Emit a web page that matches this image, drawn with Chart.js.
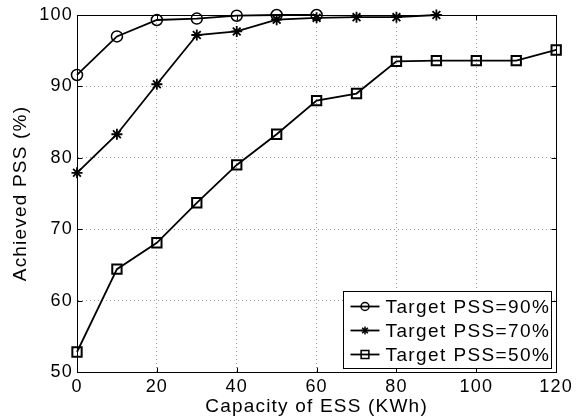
<!DOCTYPE html>
<html>
<head>
<meta charset="utf-8">
<script src="https://cdn.jsdelivr.net/npm/chart.js@4.4.1/dist/chart.umd.min.js"></script>
<style>
html,body{margin:0;padding:0;background:#fff;}
#wrap{width:577px;height:417px;position:relative;}
</style>
</head>
<body>
<div id="wrap"><canvas id="c" width="577" height="417"></canvas></div>
<script>
// ---- data ----
const capacity = [0, 10, 20, 30, 40, 50, 60, 70, 80, 90, 100, 110, 120];
const target90 = [91.6, 97.0, 99.3, 99.5, 99.9, 100, 100];
const target70 = [77.9, 83.3, 90.3, 97.2, 97.7, 99.35, 99.6, 99.7, 99.7, 100];
const target50 = [52.8, 64.4, 68.1, 73.7, 79.0, 83.3, 88.0, 89.0, 93.5, 93.6, 93.6, 93.6, 95.1];
const seriesLabels = ['Target PSS=90%', 'Target PSS=70%', 'Target PSS=50%'];
const xTicks = [0, 20, 40, 60, 80, 100, 120];
const yTicks = [50, 60, 70, 80, 90, 100];
const xTitle = 'Capacity of ESS (KWh)';
const yTitle = 'Achieved PSS (%)';

const FONT = "'Liberation Sans', Arial, Helvetica, sans-serif";
const SPACING = '1.2px';

function pairs(vals) { return vals.map((v, i) => ({ x: capacity[i], y: v })); }

function drawMarker(ctx, style, x, y, r) {
  ctx.beginPath();
  if (style === 'circle') {
    ctx.arc(x, y, r, 0, Math.PI * 2);
  } else if (style === 'rect') {
    const s = r * Math.SQRT1_2;
    ctx.rect(x - s, y - s, 2 * s, 2 * s);
  } else if (style === 'star') {
    ctx.moveTo(x - r, y); ctx.lineTo(x + r, y);
    ctx.moveTo(x, y - r); ctx.lineTo(x, y + r);
    const d = r * Math.SQRT1_2;
    ctx.moveTo(x - d, y - d); ctx.lineTo(x + d, y + d);
    ctx.moveTo(x - d, y + d); ctx.lineTo(x + d, y - d);
  }
  ctx.stroke();
}

const spacingPlugin = {
  id: 'spacing',
  beforeUpdate(chart) { chart.ctx.letterSpacing = SPACING; },
  beforeDraw(chart) { chart.ctx.letterSpacing = SPACING; }
};

const framePlugin = {
  id: 'frame',
  beforeDatasetsDraw(chart) {
    const { ctx, chartArea: a, scales: { x, y } } = chart;
    ctx.save();
    ctx.strokeStyle = '#000';
    ctx.lineWidth = 1;
    const L = Math.round(a.left) + 0.5, R = Math.round(a.right) + 0.5;
    const T = Math.round(a.top) + 0.5, B = Math.round(a.bottom) + 0.5;
    ctx.strokeRect(L, T, R - L, B - T);
    const tl = 5;
    ctx.beginPath();
    xTicks.forEach(v => {
      const px = Math.round(x.getPixelForValue(v)) + 0.5;
      ctx.moveTo(px, B); ctx.lineTo(px, B - tl);
      ctx.moveTo(px, T); ctx.lineTo(px, T + tl);
    });
    yTicks.forEach(v => {
      const py = Math.round(y.getPixelForValue(v)) + 0.5;
      ctx.moveTo(L, py); ctx.lineTo(L + tl, py);
      ctx.moveTo(R, py); ctx.lineTo(R - tl, py);
    });
    ctx.stroke();
    ctx.restore();
  }
};

const legendPlugin = {
  id: 'boxLegend',
  afterDatasetsDraw(chart) {
    const { ctx, chartArea: a } = chart;
    ctx.save();
    ctx.letterSpacing = '1.4px';
    ctx.font = '19px ' + FONT;
    const ds = chart.data.datasets;
    let maxW = 0;
    ds.forEach(d => { maxW = Math.max(maxW, ctx.measureText(d.label).width); });
    const w = 42 + maxW + 1;
    const h = 77;
    const right = a.right - 5, bottom = a.bottom - 4;
    const left = Math.round(right - w) + 0.5, top = Math.round(bottom - h) + 0.5;
    ctx.fillStyle = '#fff';
    ctx.fillRect(left, top, Math.round(w), h);
    ctx.strokeStyle = '#000';
    ctx.lineWidth = 1;
    ctx.strokeRect(left, top, Math.round(w), h);
    ds.forEach((d, i) => {
      const cy = top + 15 + i * 24;
      ctx.strokeStyle = '#000';
      ctx.lineWidth = 1.8;
      ctx.beginPath();
      ctx.moveTo(left + 7, cy); ctx.lineTo(left + 36, cy);
      ctx.stroke();
      ctx.lineWidth = 1.5;
      drawMarker(ctx, d.pointStyle, left + 21.5, cy, d.pointStyle === 'rect' ? 5.5 : 4);
      ctx.fillStyle = '#000';
      ctx.textBaseline = 'middle';
      ctx.textAlign = 'left';
      ctx.fillText(d.label, left + 42, cy + 1);
    });
    ctx.restore();
  }
};

const common = {
  borderColor: '#000',
  backgroundColor: 'rgba(0,0,0,0)',
  pointBackgroundColor: 'rgba(0,0,0,0)',
  pointBorderColor: '#000',
  borderWidth: 1.8,
  tension: 0,
  clip: false,
  fill: false
};

new Chart(document.getElementById('c'), {
  type: 'line',
  data: {
    datasets: [
      Object.assign({}, common, { label: seriesLabels[0], data: pairs(target90), pointStyle: 'circle', pointRadius: 5.5, pointBorderWidth: 1.5 }),
      Object.assign({}, common, { label: seriesLabels[1], data: pairs(target70), pointStyle: 'star', pointRadius: 5.5, pointBorderWidth: 1.8 }),
      Object.assign({}, common, { label: seriesLabels[2], data: pairs(target50), pointStyle: 'rect', pointRadius: 6.6, pointBorderWidth: 2 })
    ]
  },
  options: {
    responsive: false,
    animation: false,
    events: [],
    layout: { padding: { left: 0, top: 15, right: 18, bottom: 0 } },
    plugins: { legend: { display: false }, tooltip: { enabled: false }, title: { display: false } },
    scales: {
      x: {
        type: 'linear', min: 0, max: 120,
        afterBuildTicks: s => { s.ticks = xTicks.map(v => ({ value: v })); },
        afterFit: s => { s.height = 45; },
        grid: { color: '#999', lineWidth: 1, drawTicks: false },
        border: { display: true, color: '#000', width: 1, dash: [1, 3] },
        ticks: { color: '#000', font: { family: FONT, size: 18 }, padding: 4, maxRotation: 0, autoSkip: false },
        title: { display: true, text: xTitle, color: '#000', font: { family: FONT, size: 19 }, padding: { top: 0, bottom: -1 } }
      },
      y: {
        type: 'linear', min: 50, max: 100,
        afterBuildTicks: s => { s.ticks = yTicks.map(v => ({ value: v })); },
        afterFit: s => { s.width = 77; },
        grid: { color: '#999', lineWidth: 1, drawTicks: false },
        border: { display: true, color: '#000', width: 1, dash: [1, 3] },
        ticks: { color: '#000', font: { family: FONT, size: 18 }, padding: 4, autoSkip: false },
        title: { display: true, text: yTitle, color: '#000', font: { family: FONT, size: 19 }, padding: { top: 9, bottom: 0 } }
      }
    }
  },
  plugins: [spacingPlugin, framePlugin, legendPlugin]
});
</script>
</body>
</html>
